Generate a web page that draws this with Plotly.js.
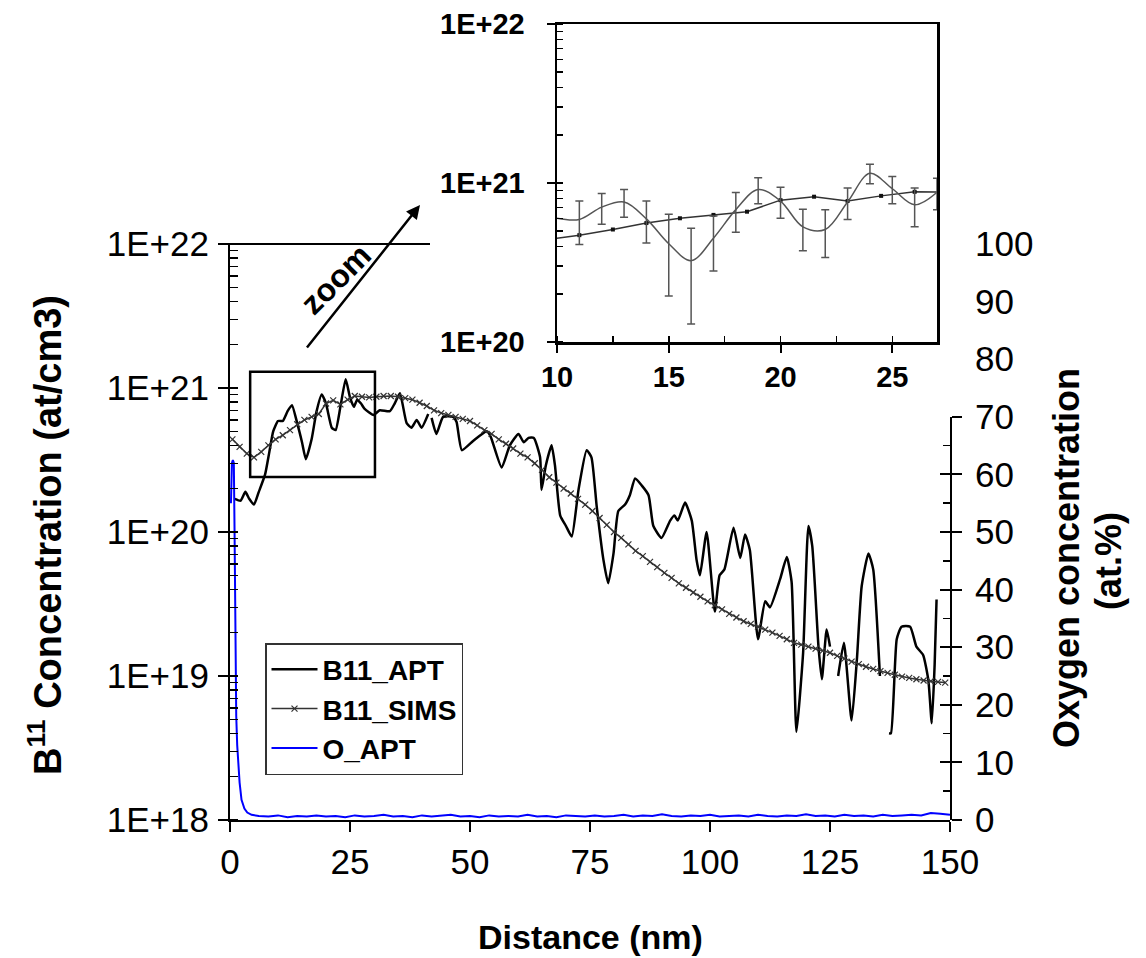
<!DOCTYPE html>
<html><head><meta charset="utf-8">
<script src="https://cdn.plot.ly/plotly-3.0.1.min.js"></script>
<style>html,body{margin:0;padding:0;background:#fff}#chart{width:1146px;height:958px}</style>
</head><body><div id="chart"></div>
<script>
// ---- B11 APT profile (main plot), nm / at/cm3 (null = gap, no counts)
const aptX = [1.0,2.2,3.2,4.0,5.0,6.0,7.3,8.2,9.0,10.0,
11.0,12.0,12.9,14.0,15.0,15.8,17.0,18.0,19.1,20.0,
21.2,22.0,23.0,24.1,25.0,25.8,26.5,27.3,28.0,29.9,
31.2,33.3,34.3,35.4,36.8,37.8,38.9,39.9,41.3,41.6,
42.0,43.0,44.4,46.5,47.2,48.3,50.7,53.5,54.3,56.6,
58.3,60.1,61.2,62.2,63.3,64.6,64.9,65.8,67.0,67.7,
68.8,70.0,71.2,72.6,74.3,75.3,76.4,77.8,78.8,79.9,
80.9,82.3,83.3,84.4,85.8,87.2,88.2,89.9,91.7,92.6,
93.3,94.8,96.2,97.2,97.9,99.3,101.0,102.0,103.0,104.9,
106.3,107.3,108.3,110.0,111.5,112.5,114.6,116.0,117.0,118.0,
119.4,120.5,121.3,122.6,123.3,124.3,125.0,125.8,126.7,127.9,
129.5,130.6,131.6,133.0,134.0,135.4,136.5,137.3,137.7,138.9,
139.9,141.7,143.0,144.4,145.5,146.2,146.8,147.2];
const aptY = [1.7e20,1.65e20,1.9e20,1.7e20,1.55e20,1.9e20,2.5e20,3.6e20,5.0e20,5.9e20,
5.9e20,6.9e20,7.6e20,5.7e20,4.2e20,3.2e20,4.4e20,6.8e20,9.0e20,7.8e20,
5.3e20,5.1e20,7.4e20,1.15e21,8.6e20,7.4e20,8.3e20,7.8e20,7.2e20,6.5e20,
7.0e20,6.9e20,7.8e20,9.2e20,5.7e20,5.3e20,6.0e20,5.3e20,6.6e20,null,
6.2e20,4.8e20,6.3e20,6.3e20,5.8e20,3.7e20,4.3e20,5.0e20,4.6e20,2.8e20,
4.0e20,4.8e20,4.2e20,4.5e20,4.5e20,3.3e20,1.96e20,2.9e20,4.0e20,2.9e20,
1.3e20,1.1e20,9.3e19,1.96e20,3.7e20,3.3e20,1.5e20,6.4e19,4.4e19,7.1e19,
1.4e20,1.55e20,1.8e20,2.35e20,2.1e20,1.8e20,1.1e20,9.1e19,1.2e20,1.3e20,
1.2e20,1.6e20,1.2e20,6.4e19,5.0e19,1.0e20,2.8e19,5.0e19,5.5e19,1.07e20,
6.6e19,9.6e19,7.5e19,1.8e19,3.3e19,3.0e19,4.7e19,6.7e19,4.5e19,4.1e18,
1.45e19,1.1e20,8e19,1.6e19,9.5e18,2.1e19,1.6e19,null,1.0e19,1.7e19,
4.9e18,1.3e19,4.2e19,7.1e19,5.5e19,1.0e19,null,4.0e18,4.0e18,1.8e19,
2.2e19,2.2e19,1.6e19,1.4e19,9.3e18,4.7e18,1.2e19,3.4e19];

// ---- B11 SIMS profile
const simsX = [0.5,2,3.5,5,6.5,8,9.5,11,12.5,14,15.5,17,18.5,20,21.5,23,24.5,26,27.5,29,
30.5,32,33.5,35,36.5,38,39.5,41,42.5,44,45.5,47,48.5,50,51.5,53,54.5,56,57.5,59,
60.5,62,63.5,65,66.5,68,69.5,71,72.5,74,75.5,77,78.5,80,81.5,83,84.5,86,87.5,89,
90.5,92,93.5,95,96.5,98,99.5,101,102.5,104,105.5,107,108.5,110,111.5,113,114.5,116,117.5,119,
120.5,122,123.5,125,126.5,128,129.5,131,132.5,134,135.5,137,138.5,140,141.5,143,144.5,146,147.5,149];
const simsY = [4.4e20,3.9e20,3.5e20,3.3e20,3.6e20,4.0e20,4.4e20,4.7e20,5.1e20,5.6e20,6.0e20,6.3e20,6.6e20,7.8e20,8.2e20,7.7e20,8.3e20,8.8e20,8.7e20,8.6e20,
8.7e20,8.8e20,8.8e20,8.7e20,8.5e20,8.3e20,7.9e20,7.5e20,7.0e20,6.7e20,6.5e20,6.3e20,6.1e20,5.9e20,5.5e20,5.1e20,4.8e20,4.4e20,4.1e20,3.8e20,
3.5e20,3.3e20,3.0e20,2.7e20,2.4e20,2.2e20,2.0e20,1.85e20,1.7e20,1.55e20,1.4e20,1.25e20,1.12e20,1.0e20,9.1e19,8.2e19,7.4e19,6.8e19,6.2e19,5.7e19,
5.2e19,4.8e19,4.4e19,4.1e19,3.8e19,3.55e19,3.3e19,3.1e19,2.9e19,2.7e19,2.55e19,2.4e19,2.3e19,2.2e19,2.1e19,2.0e19,1.9e19,1.8e19,1.7e19,1.65e19,
1.6e19,1.55e19,1.5e19,1.45e19,1.38e19,1.32e19,1.26e19,1.21e19,1.16e19,1.12e19,1.08e19,1.05e19,1.02e19,9.9e18,9.7e18,9.5e18,9.3e18,9.2e18,9.1e18,9.0e18];

// ---- Oxygen APT profile (at.%)
const oX = [0.2,0.4,0.6,0.8,0.95,1.1,1.3,1.5,1.7,2.0,2.4,3.0,3.6,4.5,
6,8,10,12,14,16,18,20,22,24,26,28,30,32,34,36,38,40,42,44,46,48,50,52,54,56,58,60,62,64,66,68,70,
72,74,76,78,80,82,84,86,88,90,92,94,96,98,100,102,104,106,108,110,112,114,116,118,120,122,124,126,
128,130,132,134,136,138,140,142,144,146,148,150];
const oY = [55,62,62.5,62,50,26,18,13,10.5,6.5,3.5,2.0,1.3,0.9,
0.7,0.6,0.8,0.5,0.7,0.6,0.8,0.6,0.7,0.5,0.8,0.6,0.7,0.9,0.6,0.7,0.5,0.8,0.6,0.7,0.9,0.6,0.7,0.5,0.8,0.6,0.7,0.6,0.9,0.6,0.7,0.5,0.8,
0.7,0.6,0.8,0.6,0.7,0.9,0.6,0.8,0.7,1.0,0.7,0.6,0.8,0.7,0.9,0.6,0.7,0.8,0.6,0.9,0.7,0.6,0.8,0.7,1.0,0.7,0.8,0.6,
0.9,0.7,0.8,0.6,0.9,0.7,0.8,0.9,0.8,1.2,1.1,0.9];

// ---- Inset (zoom) APT with error bars
const zoomX = [10,11,12,13,14,15,16,17,18,19,20,21,22,23,24,25,26,27];
const zoomApt = [6.0e20,5.9e20,7.05e20,7.6e20,5.95e20,4.15e20,3.25e20,4.5e20,6.8e20,9.1e20,7.7e20,5.3e20,5.1e20,7.6e20,1.15e21,9.2e20,7.3e20,8.75e20];
const zoomErr = [NaN,1.8e20,1.55e20,1.5e20,1.75e20,2.2e20,1.95e20,1.7e20,1.9e20,1.7e20,1.7e20,1.55e20,1.7e20,1.7e20,1.6e20,1.8e20,2.0e20,1.95e20];

// ---- ticks
const logTickVals = [1e18,1e19,1e20,1e21,1e22];
const logTickText = ['1E+18','1E+19','1E+20','1E+21','1E+22'];
const insetTickVals = [1e20,1e21,1e22];
const insetTickText = ['1E+20','1E+21','1E+22'];
const xTickVals = [0,25,50,75,100,125,150];
const insetXTickVals = [10,15,20,25];
const oTickVals = [0,10,20,30,40,50,60,70,80,90,100];

const FONT = '"Liberation Sans", Arial, sans-serif';
const W = 1146, H = 958;
const px = v => v / W, py = v => 1 - v / H;

const traces = [
  {x: aptX, y: aptY, name: 'B11_APT', type: 'scatter', mode: 'lines', xaxis: 'x', yaxis: 'y',
   connectgaps: false, line: {color: '#000', width: 2.5, shape: 'spline', smoothing: 0.5}},
  {x: simsX, y: simsY, name: 'B11_SIMS', type: 'scatter', mode: 'lines+markers', xaxis: 'x', yaxis: 'y',
   line: {color: '#333', width: 1.5},
   marker: {symbol: 'x-thin-open', size: 6, color: '#333', line: {color: '#333', width: 1.2}}},
  {x: oX, y: oY, name: 'O_APT', type: 'scatter', mode: 'lines', xaxis: 'x', yaxis: 'y2',
   line: {color: '#0000ff', width: 2}},
  {x: [], y: [], type: 'scatter', mode: 'lines', xaxis: 'x', yaxis: 'y3', showlegend: false, hoverinfo: 'skip'},
  {x: [], y: [], type: 'scatter', mode: 'lines', xaxis: 'x', yaxis: 'y5', showlegend: false, hoverinfo: 'skip'},
  // inset
  {x: simsX, y: simsY, type: 'scatter', mode: 'lines+markers', xaxis: 'x2', yaxis: 'y4', showlegend: false,
   line: {color: '#333', width: 1.5}, marker: {symbol: 'square', size: 4, color: '#111'}},
  {x: zoomX, y: zoomApt, type: 'scatter', mode: 'lines', xaxis: 'x2', yaxis: 'y4', showlegend: false,
   line: {color: '#555', width: 1.5, shape: 'spline', smoothing: 1},
   error_y: {type: 'data', array: zoomErr, visible: true, color: '#555', thickness: 1.5, width: 4}}
];

const axBase = {showgrid: false, zeroline: false, linecolor: '#000', tickcolor: '#000'};
const ann = (o) => Object.assign({xref: 'paper', yref: 'paper', xanchor: 'center', yanchor: 'middle', showarrow: false}, o);

const layout = {
  width: W, height: H,
  margin: {l: 0, r: 0, t: 0, b: 0},
  paper_bgcolor: '#fff', plot_bgcolor: 'rgba(0,0,0,0)',
  font: {family: FONT, color: '#000'},
  showlegend: true,
  legend: {x: px(265), y: py(643), xanchor: 'left', yanchor: 'top', bgcolor: '#fff',
           bordercolor: '#333', borderwidth: 1.5, font: {size: 28, weight: 'bold', family: FONT},
           tracegroupgap: 0, itemwidth: 46},
  xaxis: Object.assign({}, axBase, {domain: [px(230), px(950)], anchor: 'y', range: [0, 150],
          tickmode: 'array', tickvals: xTickVals, ticks: 'outside', ticklen: 10, tickwidth: 2,
          showline: true, linewidth: 2, tickfont: {size: 35}}),
  yaxis: Object.assign({}, axBase, {domain: [py(820), py(244)], anchor: 'x', type: 'log', range: [18, 22],
          tickmode: 'array', tickvals: logTickVals, ticktext: logTickText, ticks: 'outside', ticklen: 10, tickwidth: 2,
          minor: {ticks: 'inside', ticklen: 8, tickwidth: 1.5, dtick: 'D1', tickcolor: '#000', showgrid: false},
          showline: true, linewidth: 2, tickfont: {size: 35}, ticklabelstandoff: 2}),
  yaxis2: Object.assign({}, axBase, {overlaying: 'y', side: 'right', anchor: 'x', range: [0, 100],
          tickmode: 'array', tickvals: oTickVals, ticks: '', showline: false, tickfont: {size: 35},
          ticklabelstandoff: 24}),
  yaxis3: Object.assign({}, axBase, {domain: [py(820), py(820) + 0.7 * (py(244) - py(820))], anchor: 'x', side: 'right',
          range: [0, 70], tickmode: 'linear', tick0: 0, dtick: 10, ticks: 'outside', ticklen: 10, tickwidth: 2,
          showline: true, linewidth: 2, showticklabels: false}),
  yaxis5: Object.assign({}, axBase, {overlaying: 'y3', side: 'right', anchor: 'x', range: [0, 70],
          tickmode: 'linear', tick0: 0, dtick: 10, ticks: 'inside', ticklen: 10, tickwidth: 2,
          minor: {ticks: 'inside', dtick: 5, ticklen: 7, tickwidth: 1.5, tickcolor: '#000'},
          showline: false, showticklabels: false}),
  xaxis2: Object.assign({}, axBase, {domain: [px(557), px(937)], anchor: 'y4', range: [10, 27],
          tickmode: 'array', tickvals: insetXTickVals, ticks: 'outside', ticklen: 8, tickwidth: 2,
          minor: {ticks: 'inside', dtick: 2.5, tick0: 10, ticklen: 6, tickwidth: 1.5, tickcolor: '#000'},
          showline: true, mirror: true, linewidth: 2.5, tickfont: {size: 29, weight: 'bold'}}),
  yaxis4: Object.assign({}, axBase, {domain: [py(342), py(24)], anchor: 'x2', type: 'log', range: [20, 22],
          tickmode: 'array', tickvals: insetTickVals, ticktext: insetTickText, ticks: 'outside', ticklen: 8, tickwidth: 2,
          minor: {ticks: 'inside', ticklen: 6, tickwidth: 1.5, dtick: 'D1', tickcolor: '#000'},
          showline: true, mirror: true, linewidth: 2.5, tickfont: {size: 29, weight: 'bold'}, ticklabelstandoff: 16}),
  shapes: [
    {type: 'rect', xref: 'x', yref: 'y domain', x0: 4.2, x1: 30.2, y0: 0.5955, y1: 0.778,
     line: {color: '#000', width: 2.5}, fillcolor: 'rgba(0,0,0,0)'},
    {type: 'line', xref: 'paper', yref: 'paper', x0: px(222), x1: px(430), y0: py(244), y1: py(244),
     line: {color: '#000', width: 2}}
  ],
  annotations: [
    {xref: 'paper', yref: 'paper', x: px(420), y: py(205), ax: -115, ay: 145, axref: 'pixel', ayref: 'pixel',
     text: '&nbsp;', font: {size: 2}, showarrow: true, arrowhead: 2, arrowsize: 1.1, arrowwidth: 2.5, arrowcolor: '#000'},
    ann({x: px(336), y: py(279), text: 'zoom', textangle: -45, font: {size: 32, weight: 'bold'}}),
    ann({x: px(45), y: py(535), text: 'B<sup>11</sup> Concentration (at/cm3)', textangle: -90,
         font: {size: 38, weight: 'bold'}}),
    ann({x: px(590), y: py(937), text: 'Distance (nm)', font: {size: 34, weight: 'bold'}}),
    ann({x: px(1066), y: py(558), text: 'Oxygen concentration', textangle: -90, font: {size: 36, weight: 'bold'}}),
    ann({x: px(1108), y: py(561), text: '(at.%)', textangle: -90, font: {size: 36, weight: 'bold'}})
  ]
};

Plotly.newPlot('chart', traces, layout, {displayModeBar: false, staticPlot: true});
</script>
</body></html>
